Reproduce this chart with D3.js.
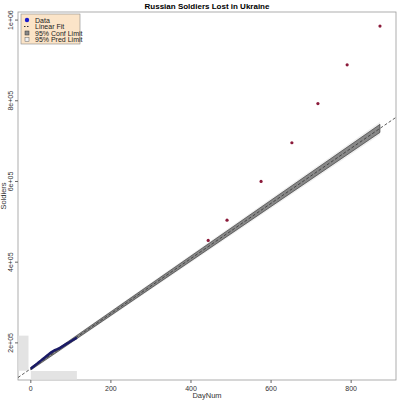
<!DOCTYPE html>
<html><head><meta charset="utf-8">
<script src="https://cdn.jsdelivr.net/npm/d3@7"></script>
<style>body{margin:0;background:#fff}text{font-family:Arial,"Liberation Sans",sans-serif}</style>
</head><body>
<script>
const dataDays = [0,5,10,15,20,25,30,35,40,45,50,55,60,65,70,75,80,85,90,95,100,105,110,115];
const dataSoldiers = [136000,140000,144000,148000,152000,156000,160000,164000,168000,172000,176000,179000,182000,184000,186000,189000,192000,195000,198000,201000,204000,207000,210000,213000];
const extraDays = [443,490,575,652,717,790,872];
const extraSoldiers = [454000,504000,600000,696000,793000,889000,985000];
const fitDays = [-32,912];
const fitIntercept = 136000, fitSlope = 683;
const bandDays = [0,872];
const confHalf = [3000,10000];
const yTicks = [200000,400000,600000,800000,1000000];
const yTickLabels = ["2e+05","4e+05","6e+05","8e+05","1e+06"];
const xTicks = [0,200,400,600,800];

const W = 400, H = 400, m = {l:18, r:4, t:12, b:20};
const svg = d3.select('body').append('svg').attr('width', W).attr('height', H);
const x = d3.scaleLinear().domain([-32, 912]).range([m.l, W - m.r]);
const y = d3.scaleLinear().domain([108000, 1020000]).range([H - m.b, m.t]);

svg.append('text').attr('x', 207).attr('y', 9).attr('text-anchor', 'middle')
  .attr('font-size', 8).attr('font-weight', 'bold').text('Russian Soldiers Lost in Ukraine');

svg.append('rect').attr('x', m.l).attr('y', m.t).attr('width', W - m.l - m.r).attr('height', H - m.t - m.b)
  .attr('fill', 'none').attr('stroke', '#999').attr('stroke-width', 0.8);

// rug-like light boxes
svg.append('rect').attr('x', m.l + 0.5).attr('y', y(dataSoldiers[23]) - 2).attr('width', 10)
  .attr('height', y(dataSoldiers[0]) - y(dataSoldiers[23]) + 4).attr('fill', '#e3e3e3');
svg.append('rect').attr('x', x(0)).attr('y', H - m.b - 9).attr('width', x(115) - x(0))
  .attr('height', 8.5).attr('fill', '#e3e3e3');

const fy = d => fitIntercept + fitSlope * d;
// bands
svg.append('path').attr('fill', '#eeeeee')
  .attr('d', d3.area().x(d => x(d)).y0((d, i) => y(fy(d) - confHalf[i] * 1.6)).y1((d, i) => y(fy(d) + confHalf[i] * 1.6))(bandDays));
svg.append('path').attr('fill', '#888').attr('stroke', '#333').attr('stroke-width', 0.6)
  .attr('d', d3.area().x(d => x(d)).y0((d, i) => y(fy(d) - confHalf[i])).y1((d, i) => y(fy(d) + confHalf[i]))(bandDays));

svg.append('line').attr('x1', x(fitDays[0])).attr('y1', y(fy(fitDays[0])))
  .attr('x2', x(fitDays[1])).attr('y2', y(fy(fitDays[1])))
  .attr('stroke', '#333').attr('stroke-dasharray', '3,2').attr('stroke-width', 0.8);

svg.append('path').attr('fill', 'none').attr('stroke', '#1a1a66').attr('stroke-width', 2.5)
  .attr('d', d3.line().x((d, i) => x(d)).y((d, i) => y(dataSoldiers[i]))(dataDays));

svg.selectAll('circle.e').data(extraDays).join('circle').attr('class', 'e')
  .attr('cx', d => x(d)).attr('cy', (d, i) => y(extraSoldiers[i])).attr('r', 1.6).attr('fill', '#8b1a3a');

// axes
const gx = svg.append('g').attr('transform', `translate(0,${H - m.b})`);
xTicks.forEach(t => {
  gx.append('line').attr('x1', x(t)).attr('x2', x(t)).attr('y1', 0).attr('y2', 3).attr('stroke', '#666');
  gx.append('text').attr('x', x(t)).attr('y', 11).attr('text-anchor', 'middle').attr('font-size', 7).attr('fill', '#333').text(t);
});
svg.append('text').attr('x', 207).attr('y', 398).attr('text-anchor', 'middle').attr('font-size', 7.5).attr('fill', '#333').text('DayNum');

yTicks.forEach((t, i) => {
  svg.append('line').attr('x1', m.l - 3).attr('x2', m.l).attr('y1', y(t)).attr('y2', y(t)).attr('stroke', '#666');
  svg.append('text').attr('transform', `translate(${m.l - 5},${y(t)}) rotate(-90)`).attr('text-anchor', 'middle')
    .attr('font-size', 7).attr('fill', '#333').text(yTickLabels[i]);
});
svg.append('text').attr('transform', 'translate(6,196) rotate(-90)').attr('text-anchor', 'middle')
  .attr('font-size', 7.5).attr('fill', '#333').text('Soldiers');

// legend
const lg = svg.append('g').attr('transform', 'translate(21,14)');
lg.append('rect').attr('width', 59).attr('height', 30).attr('fill', '#fbe4c8').attr('stroke', '#888').attr('stroke-width', 0.6);
const items = ['Data', 'Linear Fit', '95% Conf Limit', '95% Pred Limit'];
items.forEach((s, i) => {
  const yy = 6 + i * 6.5;
  lg.append('text').attr('x', 14).attr('y', yy + 2.5).attr('font-size', 7).attr('fill', '#222').text(s);
});
lg.append('circle').attr('cx', 6).attr('cy', 6).attr('r', 2.2).attr('fill', '#1a1acc');
lg.append('line').attr('x1', 3).attr('x2', 9).attr('y1', 12.5).attr('y2', 12.5).attr('stroke', '#333').attr('stroke-dasharray', '1.5,1.5');
lg.append('rect').attr('x', 4).attr('y', 17).attr('width', 4).attr('height', 4).attr('fill', '#888').attr('stroke', '#333').attr('stroke-width', 0.5);
lg.append('rect').attr('x', 4).attr('y', 23.5).attr('width', 4).attr('height', 4).attr('fill', '#eee').attr('stroke', '#666').attr('stroke-width', 0.5);
</script>
</body></html>
